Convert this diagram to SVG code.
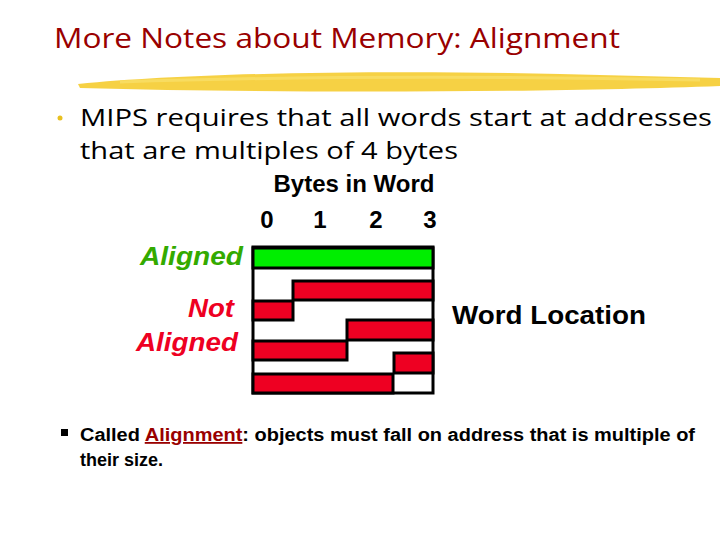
<svg xmlns="http://www.w3.org/2000/svg" width="720" height="540" viewBox="0 0 720 540">
<style>
.hand{font-family:"Open Sans","DejaVu Sans",sans-serif}
.ar{font-family:"Liberation Sans",Arial,sans-serif}
.red{fill:#ee0022;stroke:#000;stroke-width:3}
</style>
<rect width="720" height="540" fill="#fff"/>
<text x="54" y="48" class="hand" font-size="28" fill="#990000" textLength="566" lengthAdjust="spacingAndGlyphs">More Notes about Memory: Alignment</text>
<path d="M78,84 C200,72 400,70 560,74 L720,78 L720,86 C560,92 300,94 80,88 Z" fill="#f5cc30" opacity="0.9"/>
<path d="M120,82 C300,76 500,76 700,80" stroke="#f8dc60" stroke-width="3" fill="none"/>
<circle cx="60" cy="118" r="2.5" fill="#e8c020"/>
<text x="80" y="126" class="hand" font-size="24" fill="#000" textLength="632" lengthAdjust="spacingAndGlyphs">MIPS requires that all words start at addresses</text>
<text x="80" y="159" class="hand" font-size="24" fill="#000" textLength="378" lengthAdjust="spacingAndGlyphs">that are multiples of 4 bytes</text>
<g id="header" class="ar" font-weight="bold" font-size="24" fill="#000">
<text x="354" y="192" text-anchor="middle">Bytes in Word</text>
<text x="267" y="228" text-anchor="middle">0</text>
<text x="320" y="228" text-anchor="middle">1</text>
<text x="376" y="228" text-anchor="middle">2</text>
<text x="430" y="228" text-anchor="middle">3</text>
</g>
<g id="labels" class="ar" font-weight="bold" font-style="italic" font-size="25">
<text x="140" y="265" fill="#33aa00" textLength="103" lengthAdjust="spacingAndGlyphs">Aligned</text>
<text x="188" y="317" fill="#ee0022" textLength="46" lengthAdjust="spacingAndGlyphs">Not</text>
<text x="136" y="351" fill="#ee0022" textLength="102" lengthAdjust="spacingAndGlyphs">Aligned</text>
</g>
<g id="grid">
<rect x="253" y="247" width="180" height="146" fill="#fff" stroke="#000" stroke-width="3"/>
<rect x="253" y="248" width="180" height="20" fill="#00ee00" stroke="#000" stroke-width="3"/>
<rect x="293" y="281" width="140" height="19" class="red"/>
<rect x="253" y="301" width="40" height="19" class="red"/>
<rect x="347" y="320" width="86" height="20" class="red"/>
<rect x="253" y="341" width="94" height="19" class="red"/>
<rect x="394" y="353" width="39" height="20" class="red"/>
<rect x="253" y="374" width="140" height="19" class="red"/>
</g>
<text x="452" y="324" class="ar" font-weight="bold" font-size="25" fill="#000" textLength="194" lengthAdjust="spacingAndGlyphs">Word Location</text>
<g id="note" class="ar" font-size="18" font-weight="bold" fill="#000">
<rect x="61" y="429" width="7" height="7" fill="#000"/>
<text x="80" y="441" textLength="615" lengthAdjust="spacingAndGlyphs">Called <tspan fill="#990000" text-decoration="underline">Alignment</tspan>: objects must fall on address that is multiple of</text>
<text x="80" y="466">their size.</text>
</g>
</svg>
